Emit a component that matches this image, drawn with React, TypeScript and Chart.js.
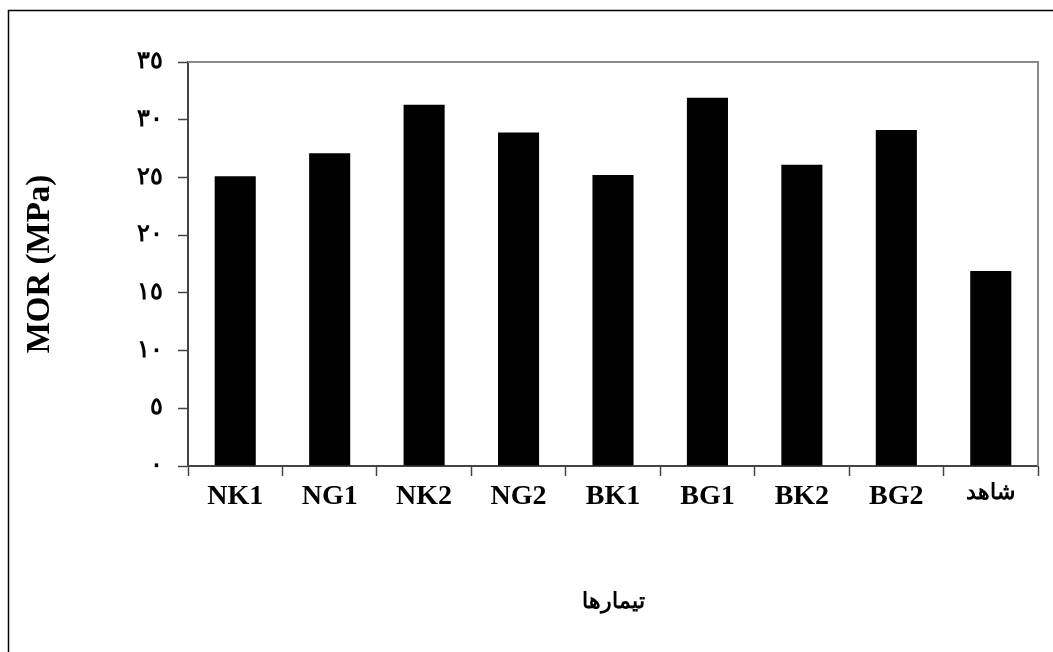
import React, { useEffect, useRef } from "react";
import { Chart, registerables } from "chart.js";

Chart.register(...registerables);

const categories = ["NK1", "NG1", "NK2", "NG2", "BK1", "BG1", "BK2", "BG2", "شاهد"];
const morValues = [25.1, 27.1, 31.3, 28.9, 25.2, 31.9, 26.1, 29.1, 16.9];
const yTickLabels: Record<number, string> = {
  0: "٠",
  5: "٥",
  10: "١٠",
  15: "١٥",
  20: "٢٠",
  25: "٢٥",
  30: "٣٠",
  35: "٣٥",
};
const yAxisTitle = "MOR (MPa)";
const xAxisTitle = "تیمارها";

const frameAndBorderPlugin = {
  id: "frameAndBorder",
  beforeDraw(chart: any) {
    const { ctx, width, height } = chart;
    ctx.save();
    ctx.fillStyle = "#ffffff";
    ctx.fillRect(0, 0, width, height);
    ctx.strokeStyle = "#000000";
    ctx.lineWidth = 1.5;
    ctx.beginPath();
    ctx.moveTo(8.5, height + 5);
    ctx.lineTo(8.5, 10.5);
    ctx.lineTo(width + 5, 10.5);
    ctx.stroke();
    ctx.restore();
  },
  afterDatasetsDraw(chart: any) {
    const { ctx, chartArea } = chart;
    ctx.save();
    ctx.strokeStyle = "#8a8a8a";
    ctx.lineWidth = 2;
    ctx.beginPath();
    ctx.moveTo(chartArea.left, chartArea.top);
    ctx.lineTo(chartArea.right, chartArea.top);
    ctx.lineTo(chartArea.right, chartArea.bottom);
    ctx.stroke();
    ctx.restore();
  },
};

const serif = "'Liberation Serif', 'Times New Roman', serif";

export default function App() {
  const canvasRef = useRef<HTMLCanvasElement | null>(null);

  useEffect(() => {
    document.body.style.margin = "0";
    document.body.style.overflow = "hidden";
    const canvas = canvasRef.current;
    if (!canvas) return;
    const chart = new Chart(canvas, {
      type: "bar",
      data: {
        labels: categories,
        datasets: [
          {
            data: morValues,
            backgroundColor: "#000000",
            borderWidth: 0,
            categoryPercentage: 1,
            barPercentage: 0.435,
          },
        ],
      },
      options: {
        responsive: false,
        animation: false,
        layout: { padding: { left: 0, top: 62, right: 15, bottom: 0 } },
        plugins: {
          legend: { display: false },
          tooltip: { enabled: false },
        },
        scales: {
          x: {
            offset: true,
            grid: {
              offset: true,
              drawOnChartArea: false,
              drawTicks: true,
              tickLength: 10,
              tickWidth: 1.5,
              tickColor: "#444444",
            },
            border: { display: true, color: "#444444", width: 2 },
            ticks: {
              color: "#000000",
              padding: 4,
              maxRotation: 0,
              autoSkip: false,
              font: (ctx: any) =>
                ctx.index === categories.length - 1
                  ? { family: serif, size: 22, weight: "bold" }
                  : { family: serif, size: 28, weight: "bold" },
            },
            title: {
              display: true,
              text: xAxisTitle,
              color: "#000000",
              padding: { top: 0, bottom: 36 },
              font: { family: serif, size: 22, weight: "bold" },
            },
            afterFit(scale: any) {
              scale.height = 186;
            },
          },
          y: {
            min: 0,
            max: 35,
            grid: {
              drawOnChartArea: false,
              drawTicks: true,
              tickLength: 10,
              tickWidth: 1.5,
              tickColor: "#444444",
            },
            border: { display: true, color: "#444444", width: 2 },
            ticks: {
              stepSize: 5,
              color: "#000000",
              padding: 15,
              font: { family: serif, size: 24, weight: "bold" },
              callback: (v: any) => yTickLabels[Number(v)] ?? String(v),
            },
            title: {
              display: true,
              text: yAxisTitle,
              color: "#000000",
              padding: { top: 21, bottom: 0 },
              font: { family: serif, size: 33, weight: "bold" },
            },
            afterFit(scale: any) {
              scale.width = 188;
            },
          },
        },
      },
      plugins: [frameAndBorderPlugin],
    });
    return () => chart.destroy();
  }, []);

  return (
    <div style={{ position: "fixed", left: 0, top: 0, width: 1053, height: 652 }}>
      <canvas ref={canvasRef} width={1053} height={652} style={{ width: 1053, height: 652, display: "block" }} />
    </div>
  );
}
